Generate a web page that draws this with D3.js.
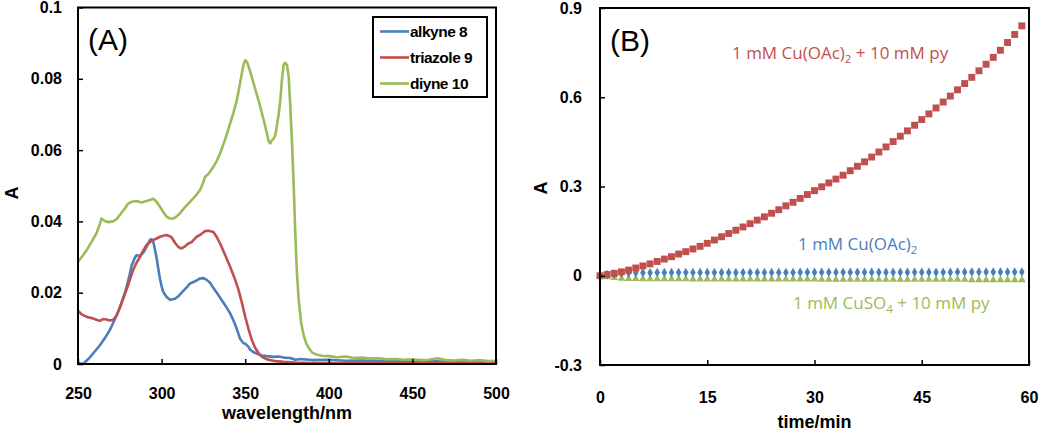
<!DOCTYPE html>
<html><head><meta charset="utf-8">
<script src="https://cdn.jsdelivr.net/npm/d3@7"></script>
<style>body{margin:0;background:#fff} svg{display:block}</style>
</head><body><svg id="c" width="1050" height="437"></svg>
<script>
// ---------- Panel A data ----------
const wavelengthTicks = [250, 300, 350, 400, 450, 500];
const absTicksA = [0, 0.02, 0.04, 0.06, 0.08, 0.1];
const seriesNamesA = ["alkyne 8", "triazole 9", "diyne 10"];

const alkyne8 = [[250,0.0003],[253,0.0000],[257,0.0018],[260,0.0035],[263,0.0052],[266,0.0072],[269,0.0095],[272,0.0125],[275,0.0158],[277,0.0185],[279,0.0215],[281,0.0252],[282,0.0275],[284,0.0298],[285,0.0305],[287,0.0303],[289,0.0312],[291,0.0328],[293,0.0348],[294,0.0350],[295,0.0343],[296,0.0322],[297,0.0298],[298,0.0268],[299,0.0240],[300,0.0218],[301,0.0202],[303,0.0188],[305,0.0180],[308,0.0183],[310,0.0190],[313,0.0205],[315,0.0215],[317,0.0226],[320,0.0232],[323,0.0240],[325,0.0241],[327,0.0236],[329,0.0228],[331,0.0213],[333,0.0200],[335,0.0186],[338,0.0165],[341,0.0142],[343,0.0122],[345,0.0098],[347,0.0070],[349,0.0058],[350,0.0057],[352,0.0048],[353,0.0040],[355,0.0033],[357,0.0029],[360,0.0024],[363,0.0022],[367,0.0020],[370,0.0021],[373,0.0018],[377,0.0017],[380,0.0012],[383,0.0014],[390,0.0011],[400,0.0012],[410,0.0009],[420,0.0010],[430,0.0008],[440,0.0009],[450,0.0007],[460,0.0008],[470,0.0006],[480,0.0006],[490,0.0005],[500,0.0004]];

const triazole9 = [[250,0.0150],[252,0.0140],[254,0.0135],[256,0.0131],[259,0.0128],[261,0.0124],[263,0.0121],[265,0.0126],[267,0.0125],[269,0.0122],[271,0.0124],[273,0.0135],[275,0.0158],[277,0.0183],[279,0.0208],[281,0.0236],[283,0.0264],[285,0.0284],[287,0.0300],[289,0.0318],[291,0.0334],[293,0.0342],[295,0.0348],[297,0.0352],[299,0.0357],[301,0.0360],[303,0.0362],[305,0.0358],[306,0.0355],[308,0.0340],[310,0.0328],[312,0.0324],[314,0.0330],[316,0.0338],[318,0.0342],[321,0.0357],[323,0.0362],[326,0.0373],[328,0.0374],[331,0.0370],[333,0.0356],[335,0.0338],[338,0.0306],[341,0.0273],[344,0.0236],[346,0.0208],[348,0.0172],[350,0.0133],[352,0.0098],[354,0.0067],[356,0.0045],[358,0.0030],[360,0.0020],[363,0.0013],[368,0.0008],[373,0.0006],[380,0.0004],[390,0.0003],[400,0.0003],[420,0.0002],[440,0.0003],[460,0.0002],[480,0.0002],[500,0.0002]];

const diyne10 = [[250,0.0287],[253,0.0305],[255,0.0318],[258,0.0342],[261,0.0366],[263,0.0392],[264,0.0408],[266,0.0401],[268,0.0398],[271,0.0400],[273,0.0406],[275,0.0418],[278,0.0436],[280,0.0450],[282,0.0455],[285,0.0457],[288,0.0453],[291,0.0457],[293,0.0460],[295,0.0464],[297,0.0455],[299,0.0441],[301,0.0426],[303,0.0413],[305,0.0408],[307,0.0408],[309,0.0414],[311,0.0423],[314,0.0440],[317,0.0455],[320,0.0470],[323,0.0488],[325,0.0510],[326,0.0525],[328,0.0533],[331,0.0553],[333,0.0570],[335,0.0591],[338,0.0630],[341,0.0675],[343,0.0705],[345,0.0740],[347,0.0790],[348,0.0815],[349,0.0840],[350,0.0852],[351,0.0848],[352,0.0834],[353,0.0820],[355,0.0787],[357,0.0755],[359,0.0722],[361,0.0685],[363,0.0647],[364,0.0625],[365,0.0619],[366,0.0628],[367,0.0632],[368,0.0642],[369,0.0670],[370,0.0700],[371,0.0740],[372,0.0800],[373,0.0840],[374,0.0845],[375,0.0838],[376,0.0806],[377,0.0720],[378,0.0620],[379,0.0500],[380,0.0360],[381,0.0250],[382,0.0180],[383.5,0.0114],[385,0.0080],[386.5,0.0058],[388,0.0045],[390,0.0032],[393,0.0026],[396,0.0023],[400,0.0022],[405,0.0019],[410,0.0021],[415,0.0017],[420,0.0018],[425,0.0015],[430,0.0016],[435,0.0013],[440,0.0014],[445,0.0012],[450,0.0013],[455,0.0011],[460,0.0012],[465,0.0016],[470,0.0011],[475,0.0010],[480,0.0012],[485,0.0009],[490,0.0011],[495,0.0008],[500,0.0009]];

// ---------- Panel B data ----------
const timeTicks = [0, 15, 30, 45, 60];
const absTicksB = [-0.3, 0, 0.3, 0.6, 0.9];
const timeMin = [0,1,2,3,4,5,6,7,8,9,10,11,12,13,14,15,16,17,18,19,20,21,22,23,24,25,26,27,28,29,30,31,32,33,34,35,36,37,38,39,40,41,42,43,44,45,46,47,48,49,50,51,52,53,54,55,56,57,58,59];
const cuOAcPy = [0.000,0.004,0.008,0.013,0.019,0.026,0.033,0.040,0.048,0.056,0.064,0.073,0.081,0.090,0.099,0.109,0.120,0.131,0.142,0.153,0.164,0.175,0.187,0.198,0.210,0.222,0.235,0.247,0.260,0.273,0.286,0.299,0.312,0.325,0.338,0.353,0.368,0.383,0.399,0.416,0.433,0.451,0.469,0.487,0.506,0.525,0.544,0.564,0.584,0.604,0.625,0.646,0.667,0.689,0.711,0.734,0.758,0.784,0.811,0.840];
const cuOAc = [0.000,0.004,0.007,0.008,0.009,0.010,0.010,0.010,0.011,0.011,0.011,0.011,0.011,0.011,0.011,0.011,0.011,0.011,0.011,0.011,0.011,0.011,0.011,0.011,0.011,0.011,0.011,0.011,0.012,0.012,0.012,0.012,0.012,0.012,0.012,0.012,0.012,0.012,0.012,0.012,0.012,0.012,0.012,0.012,0.012,0.012,0.012,0.012,0.012,0.012,0.013,0.013,0.013,0.013,0.013,0.013,0.013,0.013,0.013,0.013];
const cuSO4Py = [0.000,-0.004,-0.007,-0.009,-0.010,-0.010,-0.011,-0.011,-0.011,-0.011,-0.011,-0.011,-0.011,-0.012,-0.012,-0.012,-0.012,-0.012,-0.012,-0.012,-0.012,-0.012,-0.012,-0.012,-0.012,-0.012,-0.012,-0.012,-0.012,-0.012,-0.012,-0.013,-0.013,-0.013,-0.013,-0.013,-0.013,-0.013,-0.013,-0.013,-0.013,-0.013,-0.013,-0.013,-0.013,-0.013,-0.013,-0.013,-0.013,-0.013,-0.013,-0.013,-0.014,-0.014,-0.014,-0.014,-0.014,-0.014,-0.014,-0.014];

const colBlue = "#4a7ebb", colRed = "#c0504d", colGreen = "#9bbb59";
const svg = d3.select("#c");
const boldFont = "'Liberation Sans', Arial, sans-serif";

function styleAxis(g) {
  g.select(".domain").remove();
  g.selectAll(".tick line").attr("stroke", "#000").attr("stroke-width", 1.5);
  g.selectAll(".tick text").attr("fill", "#000").attr("font-family", boldFont)
    .attr("font-weight", "bold").attr("font-size", 16);
}

// ================= Panel A =================
const xA = d3.scaleLinear().domain([250, 500]).range([78, 496]);
const yA = d3.scaleLinear().domain([0, 0.1]).range([364, 7.5]);

const lineA = d3.line().x(d => xA(d[0])).y(d => yA(d[1]));
[[alkyne8, colBlue], [triazole9, colRed], [diyne10, colGreen]].forEach(([data, c]) => {
  svg.append("path").datum(data).attr("d", lineA).attr("fill", "none")
    .attr("stroke", c).attr("stroke-width", 2.6).attr("stroke-linejoin", "round");
});

svg.append("g").attr("transform", "translate(0,364)")
  .call(d3.axisBottom(xA).tickValues(wavelengthTicks).tickSize(-5).tickSizeOuter(0).tickPadding(23.5).tickFormat(d3.format("d")))
  .call(styleAxis);
svg.append("g").attr("transform", "translate(78,0)")
  .call(d3.axisLeft(yA).tickValues(absTicksA).tickSize(-5).tickSizeOuter(0).tickPadding(16).tickFormat(d => d === 0 ? "0" : String(+d.toFixed(2))))
  .call(styleAxis);

svg.append("rect").attr("x", xA(250)).attr("y", yA(0.1)).attr("width", xA(500) - xA(250)).attr("height", yA(0) - yA(0.1))
  .attr("fill", "none").attr("stroke", "#000").attr("stroke-width", 2);

svg.append("text").attr("x", 88).attr("y", 50).attr("font-family", "'Liberation Sans', Arial, sans-serif")
  .attr("font-size", 30).attr("fill", "#000").text("(A)");

svg.append("text").attr("x", (xA(250) + xA(500)) / 2).attr("y", 419).attr("text-anchor", "middle")
  .attr("font-family", boldFont).attr("font-weight", "bold").attr("font-size", 18).text("wavelength/nm");
svg.append("text").attr("transform", "translate(18,193) rotate(-90)").attr("text-anchor", "middle")
  .attr("font-family", boldFont).attr("font-weight", "bold").attr("font-size", 18).text("A");

// legend
const lg = svg.append("g");
lg.append("rect").attr("x", 373).attr("y", 17).attr("width", 114).attr("height", 80)
  .attr("fill", "#fff").attr("stroke", "#000").attr("stroke-width", 2);
[colBlue, colRed, colGreen].forEach((c, i) => {
  const yy = 31.5 + i * 26;
  lg.append("line").attr("x1", 380).attr("x2", 409).attr("y1", yy).attr("y2", yy).attr("stroke", c).attr("stroke-width", 2.6);
  lg.append("text").attr("x", 410).attr("y", yy + 5.5).attr("font-family", boldFont).attr("font-weight", "bold")
    .attr("font-size", 15.5).attr("letter-spacing", -0.5).text(seriesNamesA[i]);
});

// ================= Panel B =================
const xB = d3.scaleLinear().domain([0, 60]).range([600, 1029]);
const yB = d3.scaleLinear().domain([-0.3, 0.9]).range([365, 8]);

const ptsB = timeMin.map((t, i) => ({ t, r: cuOAcPy[i], b: cuOAc[i], g: cuSO4Py[i] }));
svg.append("g").selectAll("path").data(ptsB).join("path")
  .attr("d", d3.symbol(d3.symbolTriangle, 26)).attr("transform", d => `translate(${xB(d.t)},${yB(d.g)})`)
  .attr("fill", colGreen);
svg.append("g").selectAll("path").data(ptsB).join("path")
  .attr("d", d3.symbol(d3.symbolDiamond, 26)).attr("transform", d => `translate(${xB(d.t)},${yB(d.b)})`)
  .attr("fill", colBlue);
svg.append("g").selectAll("path").data(ptsB).join("path")
  .attr("d", d3.symbol(d3.symbolSquare, 48)).attr("transform", d => `translate(${xB(d.t)},${yB(d.r)})`)
  .attr("fill", colRed);

svg.append("g").attr("transform", "translate(0,365)")
  .call(d3.axisBottom(xB).tickValues(timeTicks).tickSize(-5).tickSizeOuter(0).tickPadding(27))
  .call(styleAxis);
svg.append("g").attr("transform", "translate(600,0)")
  .call(d3.axisLeft(yB).tickValues(absTicksB).tickSize(-5).tickSizeOuter(0).tickPadding(18).tickFormat(d => d === 0 ? "0" : d.toFixed(1)))
  .call(styleAxis);

svg.append("rect").attr("x", xB(0)).attr("y", yB(0.9)).attr("width", xB(60) - xB(0)).attr("height", yB(-0.3) - yB(0.9))
  .attr("fill", "none").attr("stroke", "#000").attr("stroke-width", 2);

svg.append("text").attr("x", 610).attr("y", 51).attr("font-family", "'Liberation Sans', Arial, sans-serif")
  .attr("font-size", 30).attr("fill", "#000").text("(B)");

svg.append("text").attr("x", (xB(0) + xB(60)) / 2).attr("y", 428).attr("text-anchor", "middle")
  .attr("font-family", boldFont).attr("font-weight", "bold").attr("font-size", 18).text("time/min");
svg.append("text").attr("transform", "translate(547,188) rotate(-90)").attr("text-anchor", "middle")
  .attr("font-family", boldFont).attr("font-weight", "bold").attr("font-size", 18).text("A");

function label(x, y, color, parts) {
  const t = svg.append("text").attr("x", x).attr("y", y).attr("fill", color)
    .attr("font-family", "'Open Sans', 'Noto Sans', sans-serif").attr("font-size", 17);
  let pendingDy = 0;
  parts.forEach(p => {
    if (typeof p === "string") {
      const ts = t.append("tspan").text(p);
      if (pendingDy) { ts.attr("dy", pendingDy); pendingDy = 0; }
    } else {
      t.append("tspan").attr("font-size", 11.5).attr("dy", 4).text(p.subText);
      pendingDy = -4;
    }
  });
}
label(732, 59, colRed, ["1 mM Cu(OAc)", { subText: "2" }, " + 10 mM py"]);
label(798, 250, colBlue, ["1 mM Cu(OAc)", { subText: "2" }]);
label(793, 309, colGreen, ["1 mM CuSO", { subText: "4" }, " + 10 mM py"]);
</script></body></html>
